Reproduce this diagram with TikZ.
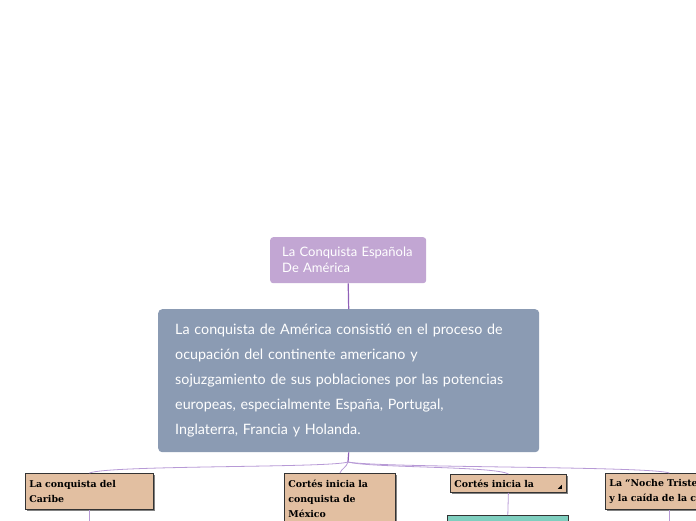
\documentclass[tikz,border=0pt]{standalone}
\usepackage{fontspec}
\usepackage{tikz}
\usetikzlibrary{shadows}
\newfontfamily\mapfont{Lato}
\newfontfamily\slabfont{DejaVu Serif}

\definecolor{titlepurple}{HTML}{C2A6D3}
\definecolor{mainblue}{HTML}{8B9BB3}
\definecolor{tan}{HTML}{E2BFA1}
\definecolor{tealbox}{HTML}{7FCFBF}
\definecolor{linkpurple}{HTML}{B79AD6}
\definecolor{stempurple}{HTML}{9060B8}

\begin{document}
\begin{tikzpicture}[x=1pt,y=-1pt,
    titlebox/.style={rectangle,rounded corners=3pt,fill=titlepurple,text=white,
      anchor=north west,align=left,inner xsep=12pt,inner ysep=0pt,
      font=\mapfont\fontsize{13}{16}\selectfont},
    mainbox/.style={rectangle,rounded corners=4pt,fill=mainblue,text=white,
      anchor=north west,align=left,inner xsep=17pt,inner ysep=0pt,
      font=\mapfont\fontsize{14.3}{25}\selectfont},
    topicbox/.style={rectangle,fill=tan,draw=black!80,line width=0.8pt,
      drop shadow={shadow xshift=1.8pt,shadow yshift=-1.8pt,fill=black!70,opacity=0.7},
      anchor=north west,align=left,inner xsep=4pt,inner ysep=0pt,
      font=\slabfont\bfseries\fontsize{9.4}{15}\selectfont},
    link/.style={draw=linkpurple,line width=0.8pt},
    stem/.style={draw=stempurple,line width=1.2pt}]
  \useasboundingbox (0,0) rectangle (696,520);
  \clip (0,0) rectangle (696,520);

  % root and description
  \node[titlebox,text width=132pt,minimum height=46pt] (title) at (270,237)
    {La Conquista Española\\De América};
  \node[mainbox,text width=347pt,minimum height=143pt] (main) at (158,309)
    {La conquista de América consistió en el proceso de\\
     ocupación del continente americano y\\
     sojuzgamiento de sus poblaciones por las potencias\\
     europeas, especialmente España, Portugal,\\
     Inglaterra, Francia y Holanda.};
  \coordinate (split) at (348,462);

  % topics
  \node[topicbox,text width=120pt,minimum height=36pt] (caribe) at (25,473)
    {La conquista del\\Caribe};
  \node[topicbox,text width=103pt,minimum height=50pt] (mexico) at (284,473)
    {Cortés inicia la\\conquista de\\México};
  \node[topicbox,text width=108pt,minimum height=18pt] (cortes) at (450,474)
    {Cortés inicia la};
  \node[topicbox,text width=120pt,minimum height=36pt] (noche) at (605,473)
    {La “Noche Triste”\\y la caída de la ciudad};
  \node[rectangle,fill=tealbox,draw=black!80,line width=0.6pt,anchor=north west,
    minimum width=121pt,minimum height=20pt] (sub) at (447,515) {};
  \fill[black] (cortes.south east) ++(-5,-4) -- ++(0,-4) -- ++(-4,4) -- cycle;

  % connectors
  \draw[stem] (title.south) -- (main.north);
  \draw[stem] (main.south) -- (split);
  \draw[link] (split) .. controls (330,468) and (110,465) .. (caribe.north);
  \draw[link] (split) .. controls (346,468) and (342,468) .. (mexico.north);
  \draw[link] (split) .. controls (370,468) and (495,466) .. (cortes.north);
  \draw[link] (split) .. controls (380,468) and (650,466) .. (noche.north);
  \draw[link] (caribe.south) -- ++(0,20);
  \draw[link] (cortes.south) -- (sub.north);
  \draw[link] (noche.south) -- ++(0,20);
\end{tikzpicture}
\end{document}
